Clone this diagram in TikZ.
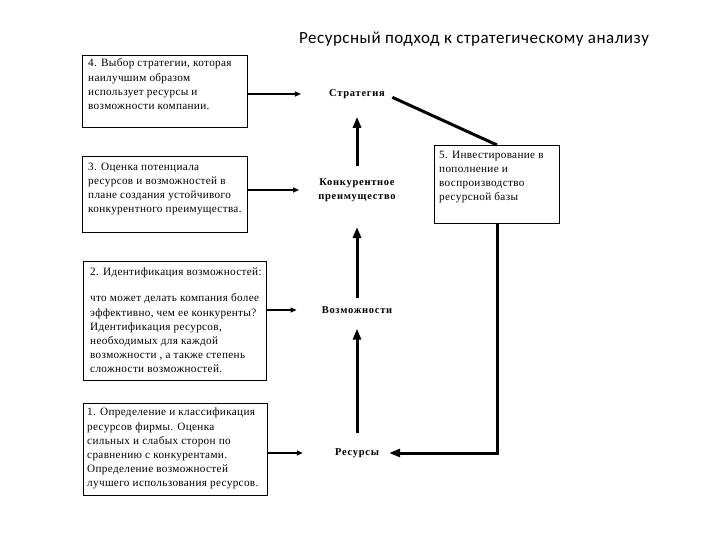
\documentclass[tikz,border=0pt]{standalone}
\usepackage{fontspec}
\setmainfont{Liberation Serif}
\newfontfamily\titlefont{Carlito}[LetterSpace=3]
\newfontfamily\boxfont{Liberation Serif}[LetterSpace=3]
\newfontfamily\lblfont{Liberation Serif}[LetterSpace=7]
\usetikzlibrary{arrows.meta}
\begin{document}
\begin{tikzpicture}[x=1pt,y=-1pt,
 box/.style={draw,line width=1pt,inner sep=0pt,anchor=north west},
 btxt/.style={inner sep=0pt,anchor=north west,align=left,font=\boxfont\fontsize{11.2}{14.2}\selectfont},
 lbl/.style={inner sep=0pt,font=\lblfont\fontsize{10.5}{14.5}\selectfont\bfseries,align=center},
 thinarr/.style={-{Triangle[length=6pt,width=5pt]},line width=1.2pt},
 thickarr/.style={-{Triangle[length=11pt,width=8pt]},line width=3pt},
 thickline/.style={line width=3pt},
]
\useasboundingbox (0,0) rectangle (720,540);
% title
\node[font=\titlefont\fontsize{17}{20}\selectfont,anchor=base] (title) at (474,44) {Ресурсный подход к стратегическому анализу};
% boxes
\node[box,minimum width=165pt,minimum height=72pt] (b4) at (82,55) {};
\node[box,minimum width=165pt,minimum height=76pt] (b3) at (82,156) {};
\node[box,minimum width=183pt,minimum height=119pt] (b2) at (83,261) {};
\node[box,minimum width=184pt,minimum height=92pt] (b1) at (83,403) {};
\node[box,minimum width=125pt,minimum height=78pt] (b5) at (434,145) {};
% box texts
\node[btxt] (t4) at (88,56.8) {\strut 4. Выбор стратегии, которая\\ наилучшим образом\\ использует ресурсы и\\ возможности компании.};
\node[btxt] (t3) at (88,160) {\strut 3. Оценка потенциала\\ ресурсов и возможностей в\\ плане создания устойчивого\\ конкурентного преимущества.};
\node[btxt] (t2) at (90,265) {\strut 2. Идентификация возможностей:\\[12.5pt] что может делать компания более\\ эффективно, чем ее конкуренты?\\ Идентификация ресурсов,\\ необходимых для каждой\\ возможности , а также степень\\ сложности возможностей.};
\node[btxt] (t1) at (87,405.8) {\strut 1. Определение и классификация\\ ресурсов фирмы. Оценка\\ сильных и слабых сторон по\\ сравнению с конкурентами.\\ Определение возможностей\\ лучшего использования ресурсов.};
\node[btxt] (t5) at (439,148) {\strut 5. Инвестирование в\\ пополнение и\\ воспроизводство\\ ресурсной базы};
% center labels
\node[lbl] (strat) at (357,94) {Стратегия};
\node[lbl] (kp) at (357,190) {Конкурентное\\ преимущество};
\node[lbl] (vozm) at (357,310) {Возможности};
\node[lbl] (res) at (357,453) {Ресурсы};
% thin arrows
\draw[thinarr,shorten >=28pt] (b4.east |- strat) -- (strat.west);
\draw[thinarr,shorten >=19pt] (b3.east |- kp) -- (kp.west);
\draw[thinarr,shorten >=25pt] (b2.east |- vozm) -- (vozm.west);
\draw[thinarr,shorten >=32pt] (b1.east |- res) -- (res.west);
% thick vertical arrows
\draw[thickarr,shorten <=15pt,shorten >=15pt] (res.north) -- (vozm.south);
\draw[thickarr,shorten <=8pt,shorten >=25pt] (vozm.north) -- (kp.south);
\draw[thickarr,shorten <=12pt,shorten >=18pt] (kp.north) -- (strat.south);
% feedback loop
\draw[thickline,shorten <=8pt] (strat.east) -- (b5.north);
\draw[thickarr,shorten >=10pt] (b5.south) -- (b5.south |- res) -- (res.east);
\end{tikzpicture}
\end{document}
